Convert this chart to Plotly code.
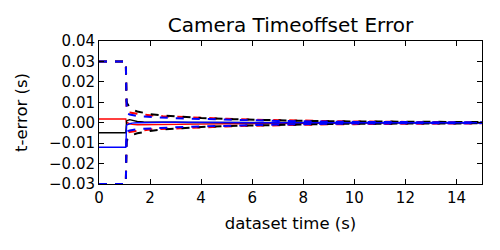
import plotly.graph_objects as go

# time samples (s)
t = [0.0, 1.05, 1.08, 1.1, 1.2, 1.3, 1.5, 1.75, 2.0, 2.5, 3.0, 3.5, 4.0, 5.0, 6.0, 7.0, 8.0, 9.0, 10.0, 12.0, 15.0]

# estimates (solid)
red_est = [0.0018, 0.0018, -0.0003, 0.0, -0.0005, -0.0008, -0.001, -0.001, -0.001, -0.001, -0.0009, -0.0008, -0.0007, -0.0005, -0.0004, -0.0003, -0.0002, -0.0001, -0.0001, 0.0, 0.0]
black_est = [-0.0049, -0.0049, 0.0008, 0.001, 0.0015, 0.0012, 0.0006, 0.0004, 0.0003, 0.0002, 0.0002, 0.0001, 0.0001, 0.0001, 0.0, 0.0, 0.0, 0.0, 0.0, 0.0, 0.0]
blue_est = [-0.012, -0.012, -0.0015, -0.001, -0.0005, -0.0002, 0.0, 0.0001, 0.0002, 0.0002, 0.0002, 0.0001, 0.0001, 0.0001, 0.0, 0.0, 0.0, 0.0, 0.0, 0.0, 0.0]

# bounds (dashed)
black_up = [0.03, 0.03, 0.0105, 0.0095, 0.0075, 0.0065, 0.0055, 0.0048, 0.0042, 0.0035, 0.003, 0.0026, 0.0023, 0.0018, 0.0014, 0.0011, 0.0009, 0.0007, 0.0006, 0.0004, 0.0003]
black_lo = [-0.03, -0.03, -0.0095, -0.0085, -0.007, -0.006, -0.0052, -0.0045, -0.004, -0.0033, -0.0028, -0.0024, -0.0021, -0.0016, -0.0013, -0.001, -0.0008, -0.0006, -0.0005, -0.0004, -0.0003]
red_up = [0.03, 0.03, 0.0055, 0.0055, 0.005, 0.0047, 0.0044, 0.004, 0.0036, 0.0032, 0.0029, 0.0026, 0.0023, 0.0019, 0.0015, 0.0012, 0.001, 0.0008, 0.0006, 0.0004, 0.0002]
red_lo = [-0.03, -0.03, -0.005, -0.0048, -0.0045, -0.0043, -0.004, -0.0037, -0.0033, -0.003, -0.0027, -0.0025, -0.0022, -0.0018, -0.0015, -0.0012, -0.001, -0.0008, -0.0007, -0.0005, -0.0003]
blue_up = [0.03, 0.03, 0.009, 0.0045, 0.004, 0.0037, 0.0033, 0.003, 0.0028, 0.0025, 0.0022, 0.002, 0.0018, 0.0014, 0.0011, 0.0009, 0.0007, 0.0005, 0.0004, 0.0003, 0.0002]
blue_lo = [-0.03, -0.03, -0.009, -0.0042, -0.0038, -0.0035, -0.0032, -0.003, -0.0028, -0.0025, -0.0022, -0.002, -0.0018, -0.0014, -0.0011, -0.0009, -0.0007, -0.0005, -0.0004, -0.0003, -0.0002]

x_ticks = [0, 2, 4, 6, 8, 10, 12, 14]
y_ticks = [-0.03, -0.02, -0.01, 0.0, 0.01, 0.02, 0.03, 0.04]

RED, BLACK, BLUE = "#ff0000", "#000000", "#0000ff"
DASH = "8px,8px"

fig = go.Figure()

def add(y, color, dashed):
    fig.add_trace(go.Scatter(
        x=t, y=y, mode="lines", showlegend=False, hoverinfo="skip",
        line=dict(color=color, width=2.0 if dashed else 1.4, dash=DASH if dashed else "solid"),
    ))

add(red_est, RED, False)
add(red_up, RED, True)
add(red_lo, RED, True)
add(black_est, BLACK, False)
add(black_up, BLACK, True)
add(black_lo, BLACK, True)
add(blue_est, BLUE, False)
add(blue_up, BLUE, True)
add(blue_lo, BLUE, True)

axis_common = dict(
    showgrid=False, zeroline=False, showline=True, linecolor="black", linewidth=1,
    mirror="ticks", ticks="inside", ticklen=5, tickwidth=1, tickcolor="black",
    tickfont=dict(size=15, color="black"),
)

# page body has an 8px margin, so the figure is drawn offset by (8, 8)
fig.update_layout(
    width=492, height=242,
    margin=dict(l=91, r=18, t=33, b=66),
    paper_bgcolor="white", plot_bgcolor="white",
    font=dict(family="DejaVu Sans", color="black"),
    title=dict(text="Camera Timeoffset Error", x=0.5, xref="paper", xanchor="center",
               y=1, yref="container", yanchor="top", pad=dict(t=10),
               font=dict(size=20, color="black")),
    xaxis=dict(range=[0, 15], tickvals=x_ticks, ticktext=[str(v) for v in x_ticks],
               title=dict(text="dataset time (s)", font=dict(size=16.5), standoff=11),
               automargin=False, **axis_common),
    yaxis=dict(range=[-0.03, 0.04], tickvals=y_ticks, tickformat=".2f",
               title=dict(text="t-error (s)", font=dict(size=16.5), standoff=17),
               automargin=False, **axis_common),
)

fig.write_html("out.html")
